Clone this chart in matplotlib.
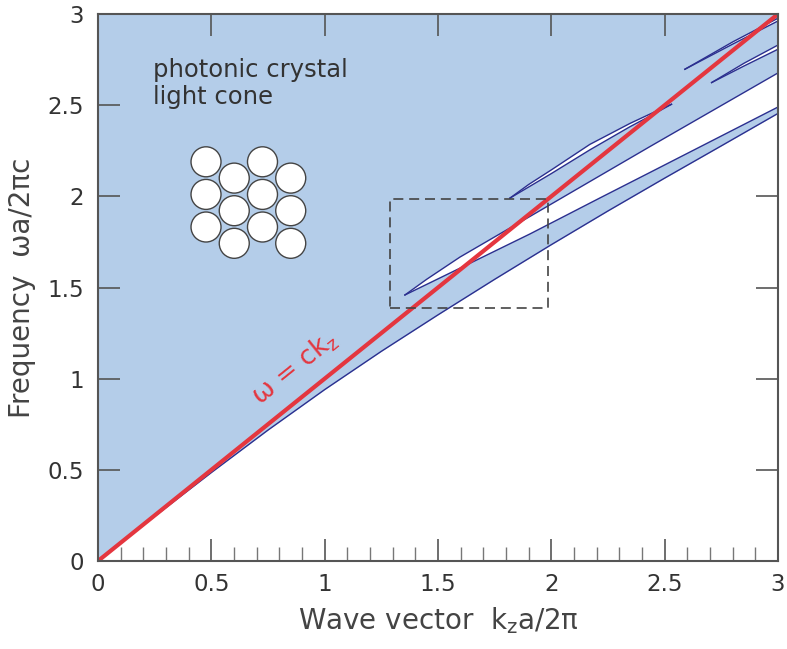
import numpy as np
import matplotlib.pyplot as plt
from matplotlib.patches import Circle, Rectangle
from matplotlib.ticker import MultipleLocator

# light line omega = c kz
light_k = [0, 3]
light_w = [0, 3]

# lower edge of the photonic crystal light cone
l1_k = [0, 0.25, 0.5, 0.75, 1.0, 1.25, 1.5, 1.75, 2.0, 2.25, 2.5, 2.75, 3.0]
l1_w = [0, 0.245, 0.485, 0.718, 0.94, 1.15, 1.35, 1.545, 1.735, 1.92, 2.1, 2.277, 2.455]

# band pair opening a gap at kz ~ 1.35
l2_k = [1.354, 1.6, 1.906, 2.214, 2.435, 3.0]
l2_w = [1.459, 1.608, 1.794, 1.991, 2.131, 2.49]
l3_k = [1.354, 1.45, 1.597, 1.803, 1.906, 2.435, 3.0]
l3_w = [1.459, 1.545, 1.667, 1.816, 1.89, 2.273, 2.677]

# thin gap slivers higher up
s1_up_k = [1.817, 1.9, 2.0, 2.17, 2.347, 2.45, 2.53]
s1_up_w = [1.99, 2.065, 2.145, 2.285, 2.40, 2.46, 2.505]
s1_lo_k = [1.817, 2.0, 2.17, 2.347, 2.45, 2.53]
s1_lo_w = [1.99, 2.125, 2.255, 2.382, 2.45, 2.505]

s2_up_k = [2.589, 2.8, 3.0]
s2_up_w = [2.697, 2.847, 2.977]
s2_lo_k = [2.589, 2.8, 3.0]
s2_lo_w = [2.697, 2.835, 2.962]

s3_up_k = [2.707, 2.85, 3.0]
s3_up_w = [2.624, 2.73, 2.83]
s3_lo_k = [2.707, 2.85, 3.0]
s3_lo_w = [2.624, 2.715, 2.807]

# zoom box
box_k = [1.29, 1.985]
box_w = [1.385, 1.985]

# hole lattice of the inset (column, row in units of a)
hole_col = [0, 0, 0, 1, 1, 1, 2, 2, 2, 3, 3, 3]
hole_row = [0, 1, 2, 0.5, 1.5, 2.5, 0, 1, 2, 0.5, 1.5, 2.5]
hole_r = 0.46

ticks = [0, 0.5, 1, 1.5, 2, 2.5, 3]
tick_labels = ['0', '0.5', '1', '1.5', '2', '2.5', '3']

blue_fill = '#b4cde9'
band_col = '#2b2f8f'
red = '#e4363f'
txt = '#333333'

fig = plt.figure(figsize=(7.87, 6.49), dpi=100)
ax = fig.add_axes([0.1245, 0.1356, 0.8641, 0.8428])

ax.fill_between(l1_k, l1_w, 3, color=blue_fill, lw=0, zorder=1)
ax.fill(np.concatenate([l2_k, l3_k[::-1]]), np.concatenate([l2_w, l3_w[::-1]]),
        color='white', lw=0, zorder=2)
for uk, uw, lk, lw_ in [(s1_up_k, s1_up_w, s1_lo_k, s1_lo_w),
                        (s2_up_k, s2_up_w, s2_lo_k, s2_lo_w),
                        (s3_up_k, s3_up_w, s3_lo_k, s3_lo_w)]:
    ax.fill(np.concatenate([uk, lk[::-1]]), np.concatenate([uw, lw_[::-1]]),
            color='white', lw=0, zorder=2)

for k, w in [(l1_k, l1_w), (l2_k, l2_w), (l3_k, l3_w),
             (s1_up_k, s1_up_w), (s1_lo_k, s1_lo_w),
             (s2_up_k, s2_up_w), (s2_lo_k, s2_lo_w),
             (s3_up_k, s3_up_w), (s3_lo_k, s3_lo_w)]:
    ax.plot(k, w, color=band_col, lw=1.0, zorder=3)

ax.plot(light_k, light_w, color=red, lw=3.0, zorder=4, solid_capstyle='butt')

ax.add_patch(Rectangle((box_k[0], box_w[0]), box_k[1] - box_k[0], box_w[1] - box_w[0],
                       fill=False, ec='#444444', lw=1.2, ls=(0, (6, 3.5)), zorder=5))

ax.set_xlim(0, 3)
ax.set_ylim(0, 3)

# rotated label along the light line
p0 = ax.transData.transform((0, 0))
p1 = ax.transData.transform((3, 3))
ang = np.degrees(np.arctan2(p1[1] - p0[1], p1[0] - p0[0]))
ax.text(0.87, 1.06, r'ω = ck$_{\rm z}$', color=red, fontsize=19, rotation=ang,
        rotation_mode='anchor', ha='center', va='center', zorder=6)

ax.text(0.243, 2.76, 'photonic crystal\nlight cone', color=txt, fontsize=17.5,
        ha='left', va='top', linespacing=1.15, zorder=6)

ins = ax.inset_axes([0.1325, 0.548, 0.1773, 0.2146])
ins.set_xlim(-0.55, 3 * np.sqrt(3) / 2 + 0.55)
ins.set_ylim(3.05, -0.55)
ins.set_aspect('equal')
ins.axis('off')
for c, r in zip(hole_col, hole_row):
    ins.add_patch(Circle((c * np.sqrt(3) / 2, r), hole_r, fc='white', ec='#444444', lw=1.0))

ax.set_xticks(ticks)
ax.set_xticklabels(tick_labels)
ax.set_yticks(ticks)
ax.set_yticklabels(tick_labels)
ax.xaxis.set_minor_locator(MultipleLocator(0.1))
ax.tick_params(which='major', direction='in', length=16, width=1.2, color='#555555',
               top=True, right=True, labelsize=16.5, labelcolor=txt)
ax.tick_params(which='minor', direction='in', length=10, width=1.0, color='#777777',
               bottom=True, top=False, left=False, right=False)
ax.tick_params(axis='x', pad=9)
ax.tick_params(axis='y', pad=10)
for s in ax.spines.values():
    s.set_color('#555555')
    s.set_linewidth(1.5)
    s.set_zorder(7)

ax.set_xlabel(r'Wave vector  k$_{\rm z}$a/2π', fontsize=20, color='#444444', labelpad=6)
ax.set_ylabel('Frequency  ωa/2πc', fontsize=20, color='#444444', labelpad=8)

fig.savefig('out.png', dpi=100)
